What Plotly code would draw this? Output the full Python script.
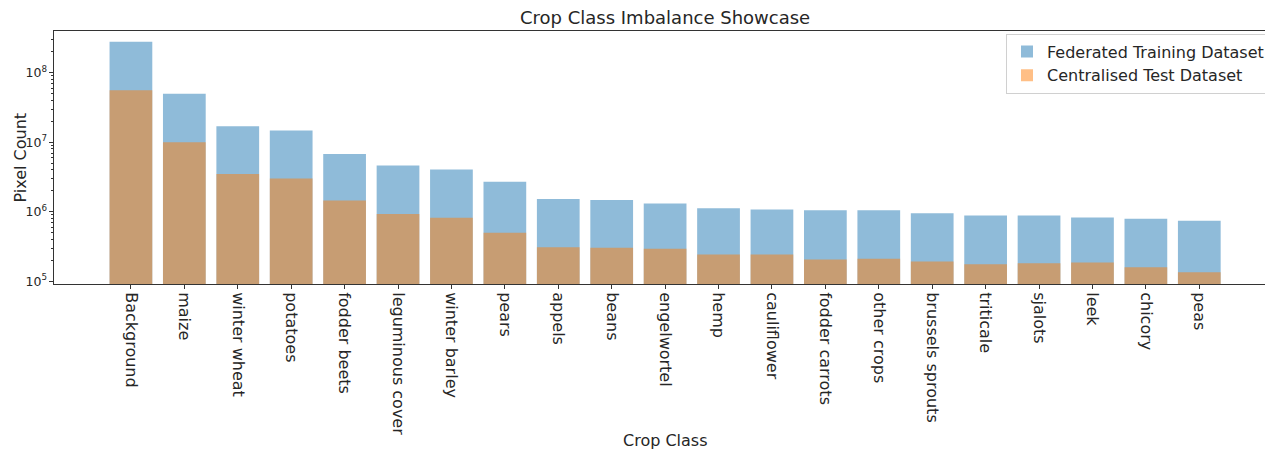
import plotly.graph_objects as go

# Crop classes, sorted by training pixel count
classes = [
    "Background", "maize", "winter wheat", "potatoes", "fodder beets",
    "leguminous cover", "winter barley", "pears", "appels", "beans",
    "engelwortel", "hemp", "cauliflower", "fodder carrots", "other crops",
    "brussels sprouts", "triticale", "sjalots", "leek", "chicory", "peas",
]

# Pixel counts per class
train_counts = [
    2.79e8, 4.98e7, 1.70e7, 1.47e7, 6.8e6,
    4.62e6, 4.05e6, 2.69e6, 1.53e6, 1.47e6,
    1.31e6, 1.12e6, 1.08e6, 1.05e6, 1.05e6,
    9.5e5, 8.8e5, 8.8e5, 8.26e5, 7.9e5, 7.4e5,
]
test_counts = [
    5.6e7, 1.0e7, 3.5e6, 3.0e6, 1.45e6,
    9.3e5, 8.17e5, 4.97e5, 3.08e5, 3.02e5,
    2.93e5, 2.42e5, 2.42e5, 2.05e5, 2.1e5,
    1.92e5, 1.76e5, 1.81e5, 1.86e5, 1.59e5, 1.35e5,
]

FONT = "DejaVu Sans"
TEXT = "#262626"
positions = list(range(len(classes)))

fig = go.Figure()
fig.add_trace(go.Bar(
    x=positions, y=train_counts, width=0.8,
    name="Federated Training Dataset",
    marker=dict(color="rgba(31,119,180,0.5)", line=dict(width=0)),
))
fig.add_trace(go.Bar(
    x=positions, y=test_counts, width=0.8,
    name="Centralised Test Dataset",
    marker=dict(color="rgba(255,127,14,0.5)", line=dict(width=0)),
))

fig.update_layout(
    width=1265, height=452,
    margin=dict(l=54, r=0, t=31, b=168, autoexpand=False),
    paper_bgcolor="white", plot_bgcolor="white",
    barmode="overlay",
    font=dict(family=FONT, color=TEXT),
    showlegend=True,
    legend=dict(
        x=(1006 - 54) / 1211, y=(284.5 - 34) / 253,
        xanchor="left", yanchor="top",
        font=dict(family=FONT, size=16, color=TEXT),
        bordercolor="#d0d0d0", borderwidth=1, bgcolor="white",
        itemsizing="constant",
    ),
    xaxis=dict(
        range=[-1.44, 21.23],
        tickmode="array", tickvals=positions, ticktext=classes,
        tickangle=90,
        tickfont=dict(family=FONT, size=16, color=TEXT),
        ticks="outside", ticklen=4, tickcolor="#333",
        showline=True, linecolor="#333", linewidth=1, mirror=True,
        showgrid=False, zeroline=False,
    ),
    yaxis=dict(
        type="log",
        range=[4.96, 8.601],
        dtick=1, exponentformat="power",
        tickfont=dict(family=FONT, size=10, color=TEXT),
        ticks="outside", ticklen=4, tickcolor="#333",
        minor=dict(ticks="outside", ticklen=2, tickcolor="#333", showgrid=False),
        showline=True, linecolor="#333", linewidth=1,
        showgrid=False, zeroline=False,
    ),
    annotations=[
        dict(text="Crop Class Imbalance Showcase", xref="paper", yref="paper",
             x=(665 - 54) / 1211, y=(284.5 - 18) / 253, xanchor="center", yanchor="middle",
             showarrow=False, font=dict(family=FONT, size=18, color=TEXT)),
        dict(text="Pixel Count", xref="paper", yref="paper",
             x=(20 - 54) / 1211, y=(284.5 - 158) / 253, xanchor="center", yanchor="middle",
             textangle=-90, showarrow=False, font=dict(family=FONT, size=16, color=TEXT)),
        dict(text="Crop Class", xref="paper", yref="paper",
             x=(665 - 54) / 1211, y=(284.5 - 441) / 253, xanchor="center", yanchor="middle",
             showarrow=False, font=dict(family=FONT, size=16, color=TEXT)),
    ],
)

fig.write_html("out.html")
